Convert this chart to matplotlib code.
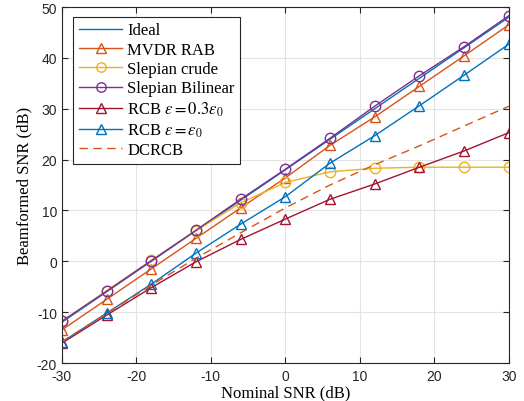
import matplotlib
matplotlib.use("Agg")
import matplotlib.pyplot as plt

snr = [-30, -24, -18, -12, -6, 0, 6, 12, 18, 24, 30]
ideal = [-12, -6, 0, 6, 12, 18, 24, 30, 36, 42, 48]
mvdr_rab = [-13.5, -7.5, -1.5, 4.5, 10.5, 16.4, 22.8, 28.4, 34.4, 40.4, 46.5]
slepian_crude = [-11.8, -5.8, 0.2, 6.0, 11.5, 15.5, 17.6, 18.3, 18.5, 18.5, 18.5]
slepian_bilinear = [-11.8, -5.9, 0.1, 6.1, 12.2, 18.1, 24.2, 30.5, 36.5, 42.2, 48.3]
rcb_03 = [-16.1, -10.6, -5.2, -0.1, 4.3, 8.3, 12.2, 15.2, 18.5, 21.7, 25.3]
rcb_1 = [-15.9, -10.2, -4.5, 1.6, 7.3, 12.7, 19.3, 24.7, 30.6, 36.6, 42.7]
dcrcb = [-15.8, -10.3, -4.7, 0.6, 5.6, 10.5, 15.0, 19.0, 22.7, 26.6, 30.5]

labels = ["Ideal", "MVDR RAB", "Slepian crude", "Slepian Bilinear",
          r"RCB $\epsilon = 0.3\epsilon_0$", r"RCB $\epsilon = \epsilon_0$", "DCRCB"]

plt.rcParams['mathtext.fontset'] = 'stix'
plt.rcParams['axes.unicode_minus'] = False
fig = plt.figure(figsize=(5.24, 4.02), dpi=100)
ax = fig.add_axes([0.118, 0.0945, 0.853, 0.8855])

blue = '#0072BD'; orange = '#D95319'; yellow = '#EDB120'; purple = '#7E2F8E'; red = '#A2142F'
lw = 1.0
ms = 7.5
ax.plot(snr, ideal, color=blue, lw=lw, label=labels[0])
ax.plot(snr, mvdr_rab, color=orange, lw=lw, marker='^', ms=ms, mfc='none', mew=1.0, label=labels[1])
ax.plot(snr, slepian_crude, color=yellow, lw=lw, marker='o', ms=ms, mfc='none', mew=1.0, label=labels[2])
ax.plot(snr, slepian_bilinear, color=purple, lw=lw, marker='o', ms=ms, mfc='none', mew=1.0, label=labels[3])
ax.plot(snr, rcb_03, color=red, lw=lw, marker='^', ms=ms, mfc='none', mew=1.0, label=labels[4])
ax.plot(snr, rcb_1, color=blue, lw=lw, marker='^', ms=ms, mfc='none', mew=1.0, label=labels[5])
ax.plot(snr, dcrcb, color=orange, lw=lw, ls=(0, (6, 4)), label=labels[6])

ax.set_xlim(-30, 30)
ax.set_ylim(-20, 50)
ax.set_xticks(range(-30, 31, 10))
ax.set_yticks(range(-20, 51, 10))
ax.grid(True, color='#e3e3e3', lw=0.8)
ax.set_axisbelow(True)
ax.tick_params(direction='in', length=4, color='#262626', labelsize=10, top=True, right=True,
               labelcolor='#262626')
ax.tick_params(axis='x', pad=4)
for lab in ax.get_xticklabels() + ax.get_yticklabels():
    lab.set_family('Liberation Sans')
for s in ax.spines.values():
    s.set_color('#262626'); s.set_linewidth(0.8)

ax.set_xlabel("Nominal SNR (dB)", family='Liberation Serif', fontsize=12, labelpad=1)
ax.set_ylabel("Beamformed SNR (dB)", family='Liberation Serif', fontsize=12, labelpad=3)

leg = ax.legend(loc='upper left', bbox_to_anchor=(0.025, 0.973), prop={'family': 'Liberation Serif', 'size': 12},
                fancybox=False, framealpha=1, edgecolor='#262626', handlelength=2.6,
                borderpad=0.35, labelspacing=0.2, handletextpad=0.3, borderaxespad=0, markerscale=0.9)
leg.get_frame().set_linewidth(0.8)

fig.savefig("out.png", dpi=100)
